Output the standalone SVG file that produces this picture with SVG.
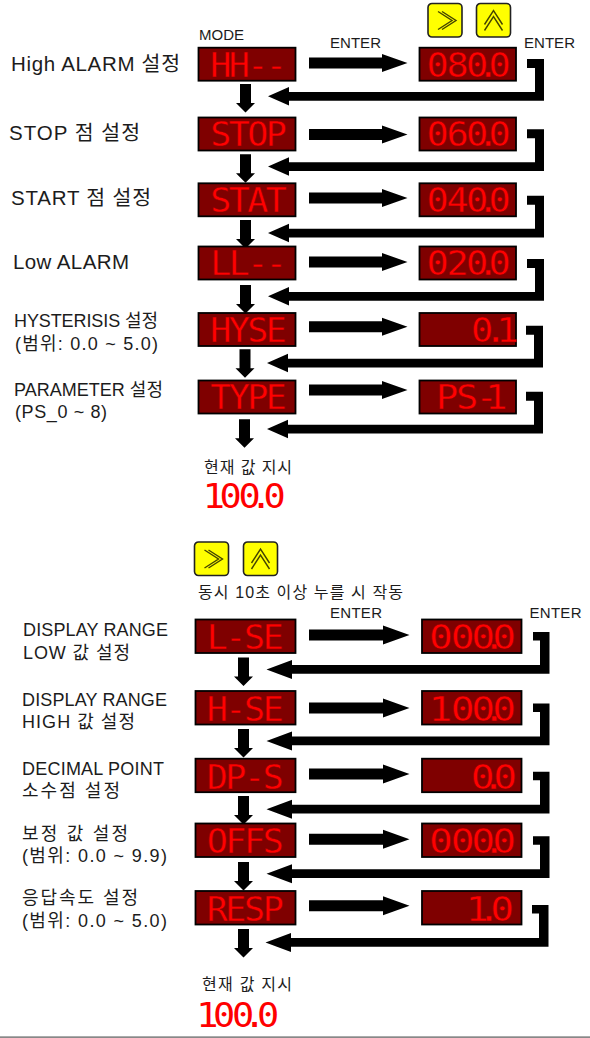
<svg xmlns="http://www.w3.org/2000/svg" width="590" height="1038" viewBox="0 0 590 1038">
<style>
.b{fill:#7f0000;stroke:#000;stroke-width:1.8}
.s{font-family:"DejaVu Sans Mono","Liberation Mono",monospace;font-size:33px;fill:#f00;stroke:#7f0000;stroke-width:.4px}
.c{stroke:none}
.n{transform:scaleX(1.06)}
.v{transform:scaleX(1.12)}
.w{transform:scaleX(1.2)}
.l{font-family:"Liberation Sans","Noto Sans CJK KR",sans-serif;fill:#1c1c1c}
.btn{fill:#ff0;stroke:#222;stroke-width:1.6}
.ch{fill:none;stroke:#444400;stroke-width:1.4}
</style>
<defs>
<path id="ra" d="M0 -5.500H73V-9L98.500 0L73 9V5.500H0Z" fill="#000"/>
<path id="ra2" d="M0 -5.500H74V-9.500L100.500 0L74 9.500V5.500H0Z" fill="#000"/>
<path id="rb" d="M0 0H17V41.700H-238V46.500L-259 37.300L-238 28V33H8V9H0Z" fill="#000"/>
<path id="rb2" d="M0 0H16.500V41.700H-241V47L-266.500 37.500L-241 28V33H7V8.500H0Z" fill="#000"/>
<path id="da" d="M4 0H15V19H19L9.500 28.500L0 19H4Z" fill="#000"/>
<g id="br"><rect class="btn" width="34" height="33.500" rx="4"/><path class="ch" d="M10 8L24 17L10 26M14 8L28 17L14 26"/></g>
<g id="bu"><rect class="btn" width="34" height="33.500" rx="4"/><path class="ch" d="M8 21L17 7L26 21M8 27L17 13L26 27"/></g>
</defs>
<rect width="590" height="1038" fill="#fff"/>

<g id="connectors">
<use href="#ra" x="309" y="63"/><use href="#ra" x="309" y="134.500"/><use href="#ra" x="309" y="198"/><use href="#ra" x="309" y="262"/><use href="#ra" x="309" y="326.700"/><use href="#ra" x="309" y="390"/>
<use href="#rb" x="527" y="59"/><use href="#rb" x="527" y="129.300"/><use href="#rb" x="527" y="195.700"/><use href="#rb" x="527" y="259"/><use href="#rb" x="526" y="325.700"/><use href="#rb" x="526" y="391.700"/>
<use href="#da" x="236" y="84"/><use href="#da" x="236" y="154.300"/><use href="#da" x="236" y="220"/><use href="#da" x="236" y="285"/><use href="#da" x="235.500" y="349.300"/><use href="#da" x="235" y="419.300"/>
<use href="#ra2" x="309" y="635"/><use href="#ra2" x="309" y="708"/><use href="#ra2" x="309" y="774"/><use href="#ra2" x="309" y="839.300"/><use href="#ra2" x="309" y="905.700"/>
<use href="#rb2" x="533" y="632"/><use href="#rb2" x="533" y="703.500"/><use href="#rb2" x="533" y="771.700"/><use href="#rb2" x="533" y="836.300"/><use href="#rb2" x="532" y="905"/>
<use href="#da" x="234" y="657.500"/><use href="#da" x="234" y="729"/><use href="#da" x="234" y="796"/><use href="#da" x="234" y="862"/><use href="#da" x="234" y="929"/>
</g>

<g id="buttons-top"><use href="#br" x="428" y="3.500"/><use href="#bu" x="476.500" y="3.500"/></g>
<g id="buttons-bottom"><use href="#br" x="194.500" y="542"/><use href="#bu" x="243.500" y="542"/></g>

<g id="captions" class="l">
<text x="199" y="40" font-size="15" textLength="45">MODE</text>
<text x="330" y="47.500" font-size="15" textLength="51">ENTER</text>
<text x="524" y="47.500" font-size="15" textLength="51">ENTER</text>
<text x="198" y="598" font-size="16" textLength="205">동시 10초 이상 누를 시 작동</text>
<text x="330" y="618" font-size="15" textLength="52">ENTER</text>
<text x="529.500" y="618" font-size="15" textLength="52">ENTER</text>
<text x="204" y="473" font-size="16" textLength="88">현재 값 지시</text>
<text x="202" y="990" font-size="16" textLength="90">현재 값 지시</text>
</g>

<g id="labels" class="l">
<text x="11" y="71" font-size="20.500" textLength="169">High ALARM 설정</text>
<text x="9" y="140" font-size="20.500" textLength="131">STOP 점 설정</text>
<text x="11" y="205" font-size="20.500" textLength="140">START 점 설정</text>
<text x="13" y="269" font-size="20.500" textLength="116">Low ALARM</text>
<text x="14" y="327" font-size="18" textLength="144">HYSTERISIS 설정</text>
<text x="15" y="350" font-size="18" textLength="143">(범위: 0.0 ~ 5.0)</text>
<text x="14" y="396" font-size="18" textLength="149">PARAMETER 설정</text>
<text x="15" y="418" font-size="18" textLength="92">(PS_0 ~ 8)</text>
<text x="23" y="636" font-size="18" textLength="145">DISPLAY RANGE</text>
<text x="23" y="659" font-size="18" textLength="107">LOW 값 설정</text>
<text x="22" y="706" font-size="18" textLength="145">DISPLAY RANGE</text>
<text x="22" y="728" font-size="18" textLength="113">HIGH 값 설정</text>
<text x="22" y="775" font-size="18" textLength="142">DECIMAL POINT</text>
<text x="22" y="797" font-size="18" textLength="98">소수점 설정</text>
<text x="22" y="840" font-size="18" textLength="106">보정 값 설정</text>
<text x="22" y="862" font-size="18" textLength="145">(범위: 0.0 ~ 9.9)</text>
<text x="22" y="904" font-size="18" textLength="116">응답속도 설정</text>
<text x="22" y="927" font-size="18" textLength="145">(범위: 0.0 ~ 5.0)</text>
</g>

<g id="mode-hh"><rect class="b" x="198.500" y="47.700" width="97" height="33"/><text class="s n" x="198.300 215.700 233.200 250.600" y="76.700">HH--</text></g>
<g id="val-080"><rect class="b" x="419.500" y="47.700" width="96.500" height="33"/><text class="s v" x="380.800 398.700 416.100 425.800 436.200" y="76.700">080.0</text></g>
<g id="mode-stop"><rect class="b" x="198.500" y="117.500" width="97" height="33"/><text class="s n" x="198.300 215.700 233.200 250.600" y="146.500">STOP</text></g>
<g id="val-060"><rect class="b" x="419.500" y="117.500" width="96.500" height="33"/><text class="s v" x="380.800 398.700 416.100 425.800 436.200" y="146.500">060.0</text></g>
<g id="mode-stat"><rect class="b" x="198.500" y="183.300" width="97" height="33"/><text class="s n" x="198.300 215.700 233.200 250.600" y="212.300">STAT</text></g>
<g id="val-040"><rect class="b" x="419.500" y="183.300" width="96.500" height="33"/><text class="s v" x="380.800 398.700 416.100 425.800 436.200" y="212.300">040.0</text></g>
<g id="mode-ll"><rect class="b" x="198.500" y="246.500" width="97" height="33"/><text class="s n" x="198.300 215.700 233.200 250.600" y="275.500">LL--</text></g>
<g id="val-020"><rect class="b" x="419.500" y="246.500" width="96.500" height="33"/><text class="s v" x="380.800 398.700 416.100 425.800 436.200" y="275.500">020.0</text></g>
<g id="mode-hyse"><rect class="b" x="198.500" y="313" width="97" height="33"/><text class="s n" x="198.300 215.700 233.200 250.600" y="342">HYSE</text></g>
<g id="val-01"><rect class="b" x="419.500" y="313" width="96.500" height="33"/><text class="s v" x="420.600 432.500 443" y="342">0.1</text></g>
<g id="mode-type"><rect class="b" x="198.500" y="380.500" width="97" height="33"/><text class="s n" x="198.300 215.700 233.200 250.600" y="409.500">TYPE</text></g>
<g id="val-ps1"><rect class="b" x="419.500" y="380.500" width="96.500" height="33"/><text class="s v" x="389.300 407.200 424.600 433.200" y="409.500">PS-1</text></g>
<g id="current-top"><text class="s v c" x="181 196 213 223.200 235.300" y="508">100.0</text></g>

<g id="mode-lse"><rect class="b" x="195.500" y="619.500" width="100" height="33.500"/><text class="s n" x="195 212.600 230.300 247.800" y="649.500">L-SE</text></g>
<g id="val-000"><rect class="b" x="422" y="619.500" width="99.500" height="33.500"/><text class="s w" x="357.600 375.700 392.800 401.800 410.300" y="649.500">000.0</text></g>
<g id="mode-hse"><rect class="b" x="195.500" y="691" width="100" height="33.500"/><text class="s n" x="195 212.600 230.300 247.800" y="721">H-SE</text></g>
<g id="val-100"><rect class="b" x="422" y="691" width="99.500" height="33.500"/><text class="s w" x="357 375.700 392.800 401.800 410.300" y="721">100.0</text></g>
<g id="mode-dps"><rect class="b" x="195.500" y="758.700" width="100" height="33.500"/><text class="s n" x="195 212.600 230.300 247.800" y="788.700">DP-S</text></g>
<g id="val-00"><rect class="b" x="422" y="758.700" width="99.500" height="33.500"/><text class="s w" x="392.400 401.300 411.100" y="788.700">0.0</text></g>
<g id="mode-offs"><rect class="b" x="195.500" y="823.500" width="100" height="33.500"/><text class="s n" x="195 212.600 230.300 247.800" y="853.500">OFFS</text></g>
<g id="val-000b"><rect class="b" x="422" y="823.500" width="99.500" height="33.500"/><text class="s w" x="357.600 375.700 392.800 401.800 410.300" y="853.500">000.0</text></g>
<g id="mode-resp"><rect class="b" x="195.500" y="891" width="100" height="33.500"/><text class="s n" x="195 212.600 230.300 247.800" y="921">RESP</text></g>
<g id="val-10"><rect class="b" x="422" y="891" width="99.500" height="33.500"/><text class="s w" x="388 397.600 408.600" y="921">1.0</text></g>
<g id="current-bottom"><text class="s v c" x="175.200 190.200 207.200 217.400 229.500" y="1027">100.0</text></g>
<rect x="0" y="1036.300" width="590" height="1.700" fill="#888"/>
</svg>
